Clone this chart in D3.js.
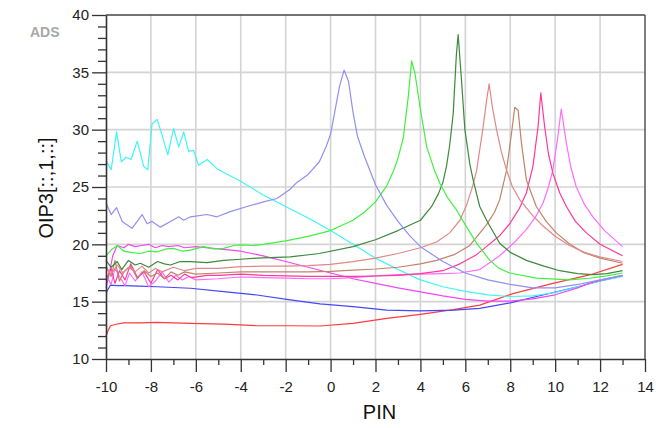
<!DOCTYPE html>
<html>
<head>
<meta charset="utf-8">
<script src="https://cdn.jsdelivr.net/npm/d3@7"></script>
<style>
html,body{margin:0;padding:0;background:#fff;}
svg{display:block;}
text{font-family:"Liberation Sans",Arial,sans-serif;}
</style>
</head>
<body>
<svg id="chart" width="656" height="428"></svg>
<script>
// ---- data (PIN, OIP3) ----
const xTicks = [-10,-8,-6,-4,-2,0,2,4,6,8,10,12,14];
const yTicks = [10,15,20,25,30,35,40];
const xTitle = "PIN";
const yTitle = "OIP3[::,1,::]";

const cyan = [[-10,27.3],[-9.77,26.5],[-9.53,29.8],[-9.32,27.2],[-9.1,27.6],[-8.88,27.4],[-8.61,29.0],[-8.32,26.8],[-8.14,26.5],[-7.95,30.5],[-7.72,30.9],[-7.5,29.5],[-7.25,27.8],[-6.99,30.1],[-6.76,28.5],[-6.54,29.8],[-6.32,28.1],[-6.1,28.2],[-5.88,26.9],[-5.5,27.4],[-5.06,26.6],[-4.5,26.0],[-4,25.5],[-3,24.3],[-2,23.3],[-1,22.3],[0,21.2],[1,20.0],[2,18.8],[3,17.8],[4,16.9],[5,16.3],[6,15.9],[7,15.6],[8,15.45],[9,15.5],[10,15.8],[11,16.3],[12,16.8],[13,17.2]];
const lavender = [[-10,23.6],[-9.77,22.6],[-9.53,23.2],[-9.28,22.0],[-8.84,21.4],[-8.39,22.6],[-8.17,21.8],[-7.95,22.0],[-7.58,21.5],[-7.13,22.0],[-6.76,22.4],[-6.54,22.1],[-6.24,22.4],[-5.5,22.6],[-5.06,22.4],[-4.47,22.85],[-3.72,23.3],[-2.99,23.7],[-2.39,24.0],[-1.8,24.8],[-1.5,25.4],[-1,26.1],[-0.5,27.2],[-0.2,28.5],[0,29.6],[0.2,31.7],[0.4,33.8],[0.6,35.2],[0.8,34.2],[1.0,31.5],[1.2,29.4],[1.5,27.7],[2,25.2],[2.5,23.4],[3,22.0],[3.5,20.8],[4,19.8],[5,18.5],[6,17.5],[7,16.9],[8,16.5],[9,16.2],[10,16.2],[11,16.5],[12,16.9],[13,17.3]];
const green = [[-10,19.0],[-9.77,19.5],[-9.5,19.9],[-9.2,19.4],[-8.9,19.3],[-8.47,19.2],[-8.1,19.4],[-7.72,19.35],[-7.3,19.6],[-6.99,19.65],[-6.6,19.4],[-6.24,19.5],[-5.65,19.8],[-5.2,19.6],[-4.76,19.65],[-4.3,19.9],[-4.02,19.95],[-3.5,19.9],[-3,20.0],[-2,20.3],[-1,20.7],[0,21.2],[1,22.1],[1.5,22.8],[2,23.7],[2.5,25.1],[2.8,26.4],[3.0,27.5],[3.24,29.3],[3.46,32.9],[3.61,36.0],[3.76,34.9],[3.98,32.0],[4.28,28.5],[4.6,26.6],[4.87,25.3],[5.2,24.1],[5.61,23.0],[6.0,21.7],[6.5,20.1],[7.09,18.6],[7.5,17.9],[7.98,17.5],[9.16,17.05],[10.64,16.9],[11.53,17.04],[12.3,17.25],[13,17.5]];
const darkGreen = [[-10,18.6],[-9.77,18.0],[-9.5,18.5],[-9.3,17.8],[-9.0,18.6],[-8.7,18.2],[-8.47,18.35],[-8.1,18.0],[-7.7,18.5],[-7.4,18.3],[-7.13,18.2],[-6.7,18.5],[-6.24,18.5],[-5.5,18.4],[-4.76,18.6],[-4,18.7],[-3.28,18.8],[-1.8,18.9],[-0.5,19.2],[1,19.8],[2,20.4],[3,21.2],[4,22.1],[4.5,23.3],[4.8,24.4],[5.0,25.4],[5.16,26.8],[5.3,28.6],[5.46,31.4],[5.6,36.5],[5.68,38.3],[5.83,34.3],[5.98,30.0],[6.2,27.0],[6.35,25.6],[6.64,23.3],[7.0,21.9],[7.53,20.1],[8.0,19.3],[8.72,18.6],[9.5,18.1],[10.2,17.7],[11,17.45],[11.68,17.35],[12.3,17.45],[13,17.7]];
const salmon = [[-10,18.0],[-9.77,17.4],[-9.5,18.2],[-9.25,17.5],[-9.0,18.0],[-8.7,17.6],[-8.4,18.1],[-8.1,17.5],[-7.8,17.9],[-7.5,17.6],[-7.0,18.0],[-6.5,17.7],[-6,17.9],[-5,17.9],[-4,18.05],[-3,18.1],[-2,18.1],[-1,18.15],[0,18.25],[1,18.5],[2,18.8],[3,19.2],[4,19.7],[4.72,20.2],[5.3,21.0],[5.76,22.1],[6.05,23.4],[6.3,24.9],[6.5,26.4],[6.79,30.2],[6.95,32.6],[7.06,34.0],[7.2,32.0],[7.39,30.0],[7.6,28.1],[7.83,26.5],[8.1,25.0],[8.42,23.9],[9.0,22.5],[9.46,21.6],[10,20.7],[10.64,19.9],[11.3,19.3],[11.98,18.9],[13,18.5]];
const brown = [[-10,18.1],[-9.77,17.2],[-9.6,18.6],[-9.4,16.8],[-9.2,17.6],[-8.9,18.1],[-8.6,17.0],[-8.3,17.7],[-8.0,17.2],[-7.7,17.5],[-7.4,17.0],[-7.1,17.6],[-6.8,17.3],[-6.5,17.6],[-6,17.4],[-5,17.5],[-4,17.6],[-3,17.6],[-2,17.6],[-1,17.6],[0,17.65],[1,17.75],[2,17.85],[3,18.0],[4,18.3],[4.72,18.6],[5.5,19.1],[6.2,19.9],[6.94,21.7],[7.3,22.8],[7.53,23.9],[7.83,26.4],[8.05,29.6],[8.2,31.95],[8.35,31.7],[8.5,28.8],[8.72,25.6],[9.16,23.3],[9.6,22.0],[10.05,21.0],[10.6,20.1],[11.24,19.3],[12,18.8],[13,18.35]];
const deepPink = [[-10,16.9],[-9.77,17.9],[-9.6,16.6],[-9.4,17.7],[-9.15,16.9],[-8.9,18.3],[-8.6,17.1],[-8.3,17.6],[-8.0,16.6],[-7.7,17.8],[-7.4,17.0],[-7.1,17.3],[-6.8,16.9],[-6.5,17.4],[-6.2,17.1],[-5.5,17.3],[-5,17.3],[-4,17.4],[-3,17.3],[-2,17.25],[-1,17.2],[0,17.2],[1,17.2],[2,17.24],[3,17.3],[4,17.45],[5,17.7],[5.76,18.3],[6.5,19.1],[6.94,19.8],[7.5,20.7],[7.98,21.8],[8.4,23.1],[8.72,24.5],[9.01,26.8],[9.24,30.3],[9.36,33.2],[9.53,30.3],[9.7,27.9],[9.9,26.2],[10.2,24.5],[10.5,23.3],[10.9,22.0],[11.39,21.0],[12,20.0],[13,19.0]];
const lightMagenta = [[-10,17.3],[-9.77,16.5],[-9.6,17.9],[-9.4,17.2],[-9.15,16.4],[-8.95,17.5],[-8.7,16.8],[-8.4,17.6],[-8.1,16.3],[-7.8,16.8],[-7.5,17.6],[-7.2,16.7],[-6.9,17.3],[-6.6,16.9],[-6.3,17.2],[-6,16.9],[-5,17.0],[-4,17.15],[-3,17.1],[-2,17.05],[-1,17.0],[0,17.0],[1,17.1],[2,17.25],[3,17.35],[4,17.4],[5,17.45],[5.76,17.5],[6.64,17.8],[7.53,19.0],[8.2,20.2],[8.72,21.3],[9.1,22.3],[9.46,23.6],[9.7,25.0],[9.9,26.5],[10.12,29.4],[10.27,31.8],[10.5,28.8],[10.7,26.7],[10.94,25.0],[11.3,23.5],[11.68,22.4],[12.2,21.2],[13,19.8]];
const magenta = [[-10,16.2],[-9.85,17.5],[-9.7,19.0],[-9.5,19.9],[-9.2,19.7],[-9.0,20.0],[-8.7,19.8],[-8.4,19.9],[-8.1,20.0],[-7.8,19.7],[-7.5,19.9],[-7.2,19.8],[-6.8,19.9],[-6.5,19.7],[-6,19.8],[-5,19.6],[-4,19.4],[-3,19.0],[-2,18.5],[-1,18.0],[0,17.5],[1,17.0],[2,16.6],[3,16.2],[4,15.85],[5,15.5],[6,15.2],[7,15.05],[8,15.05],[9,15.25],[10,15.6],[11,16.2],[11.5,16.6],[12,16.85],[13,17.3]];
const blue = [[-10,15.75],[-9.8,16.45],[-9.5,16.4],[-9.2,16.4],[-8.5,16.35],[-7.72,16.3],[-6.24,16.17],[-4.76,15.87],[-3.28,15.58],[-1.8,15.15],[-0.47,14.8],[1,14.56],[2.5,14.27],[4,14.19],[5.5,14.27],[6.64,14.42],[8,14.9],[9.5,15.6],[11,16.3],[12,16.8],[13,17.25]];
const red = [[-10,12.0],[-9.9,12.5],[-9.8,12.9],[-9.5,13.05],[-9.2,13.15],[-8.5,13.15],[-7.72,13.2],[-7,13.15],[-6.24,13.1],[-4.76,13.05],[-3.28,12.9],[-1.8,12.9],[-0.47,12.88],[1,13.1],[2.5,13.55],[4,13.9],[5.46,14.3],[6.64,14.7],[8.12,15.7],[9.9,16.6],[11.53,17.33],[13,18.25]];

const seriesList = [red, blue, cyan, magenta, lightMagenta, deepPink, brown, salmon, darkGreen, green, lavender];
const seriesColors = ["#ff3c3c","#4646ff","#3ff5f5","#f048f0","#ff6cff","#ff3899","#c0846a","#e08888","#3c8a3c","#40f040","#9090f0"];

// ---- layout ----
const svg = d3.select("#chart");
const L = 106, R = 645, T = 15, B = 359;
const x = d3.scaleLinear().domain([-10,14]).range([L,R]);
const y = d3.scaleLinear().domain([10,40]).range([B,T]);

// grid
const grid = svg.append("g").attr("stroke","#d4d4d4").attr("stroke-width",1.6);
xTicks.slice(1,-1).forEach(v=>grid.append("line").attr("x1",x(v)).attr("x2",x(v)).attr("y1",T).attr("y2",B));
yTicks.slice(1,-1).forEach(v=>grid.append("line").attr("y1",y(v)).attr("y2",y(v)).attr("x1",L).attr("x2",R));

// series
const line = d3.line().x(d=>x(d[0])).y(d=>y(d[1]));
const plot = svg.append("g");
seriesList.forEach((s,i)=>{
  plot.append("path").datum(s).attr("d",line).attr("fill","none")
    .attr("stroke",seriesColors[i]).attr("stroke-width",1.2).attr("stroke-linejoin","round");
});

// frame (top & right)
svg.append("line").attr("x1",L).attr("x2",R).attr("y1",T).attr("y2",T).attr("stroke","#444").attr("stroke-width",1.5);
svg.append("line").attr("x1",R).attr("x2",R).attr("y1",T).attr("y2",B).attr("stroke","#555").attr("stroke-width",1.5);

const fmt = d => String(d); // plain hyphen-minus like the reference

// x axis
const minorX = d3.range(-9,14,2);
const gx = svg.append("g").attr("transform",`translate(0,${B})`);
gx.call(d3.axisBottom(x).tickValues(xTicks).tickSize(13).tickSizeOuter(0).tickPadding(9).tickFormat(fmt));
const gxm = svg.append("g").attr("transform",`translate(0,${B})`);
gxm.call(d3.axisBottom(x).tickValues(minorX).tickSize(6).tickFormat(""));
gxm.select(".domain").remove();

// y axis
const minorY = d3.range(11,40,1).filter(v=>v%5!==0);
const gy = svg.append("g").attr("transform",`translate(${L},0)`);
gy.call(d3.axisLeft(y).tickValues(yTicks).tickSize(14).tickSizeOuter(0).tickPadding(3).tickFormat(fmt));
const gym = svg.append("g").attr("transform",`translate(${L},0)`);
gym.call(d3.axisLeft(y).tickValues(minorY).tickSize(8).tickFormat(""));
gym.select(".domain").remove();

svg.selectAll(".domain").attr("stroke","#333").attr("stroke-width",1.6);
svg.selectAll(".tick line").attr("stroke","#333").attr("stroke-width",1.3);
svg.selectAll(".tick text").attr("fill","#222").style("font-size","15px").style("font-family","'Liberation Sans',Arial,sans-serif");

// titles
svg.append("text").attr("x",(L+R)/2 + 4).attr("y",419).attr("text-anchor","middle")
  .style("font-size","20px").attr("fill","#111").text(xTitle);
svg.append("text").attr("transform","translate(53,188) rotate(-90)").attr("text-anchor","middle")
  .style("font-size","20px").attr("fill","#111").text(yTitle);

// ADS watermark
svg.append("text").attr("x",30).attr("y",37).style("font-size","14px").style("font-weight","bold")
  .attr("fill","#a8a8a8").text("ADS");
</script>
</body>
</html>
